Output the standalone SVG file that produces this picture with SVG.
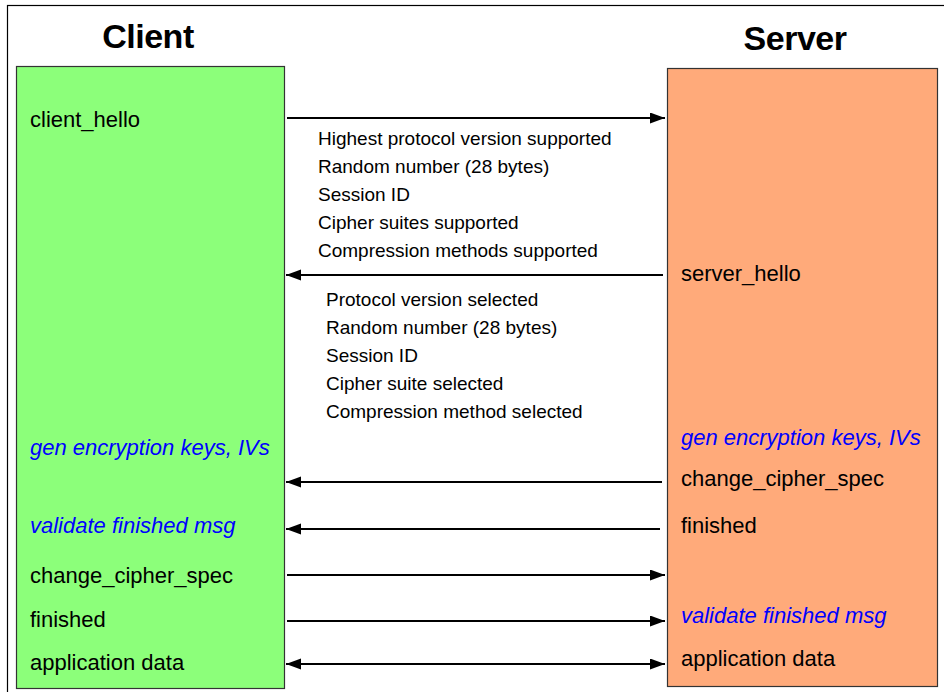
<svg xmlns="http://www.w3.org/2000/svg" width="944" height="692" viewBox="0 0 944 692">
<defs>
<style>
.t{font-family:"Liberation Sans",Arial,sans-serif;font-size:22px;fill:#000}
.s{font-family:"Liberation Sans",Arial,sans-serif;font-size:19px;fill:#000}
.b{fill:#0000FF;font-style:italic}
.h{font-family:"Liberation Sans",Arial,sans-serif;font-size:34px;font-weight:bold;fill:#000;text-anchor:middle;letter-spacing:-0.5px}
.c line{stroke:#000;stroke-width:2}
.box{stroke:#333;stroke-width:1.2}
</style>
<marker id="ah" markerUnits="userSpaceOnUse" markerWidth="16" markerHeight="12" refX="15" refY="5.5" orient="auto-start-reverse">
<path d="M0,0 L15,5.5 L0,11 z" fill="#000"/>
</marker>
</defs>
<rect x="0" y="0" width="944" height="692" fill="#fff"/>
<rect x="7.5" y="5.5" width="945" height="700" fill="none" stroke="#000" stroke-width="1.2"/>
<g id="client">
<text class="h" x="148" y="48">Client</text>
<rect class="box" x="16.5" y="66.5" width="268" height="622" fill="#8CFF7A"/>
<text class="t" x="30" y="127">client_hello</text>
<text class="t b" x="30" y="455">gen encryption keys, IVs</text>
<text class="t b" x="30" y="533">validate finished msg</text>
<text class="t" x="30" y="583">change_cipher_spec</text>
<text class="t" x="30" y="627">finished</text>
<text class="t" x="30" y="670">application data</text>
</g>
<g id="server">
<text class="h" x="795" y="50">Server</text>
<rect class="box" x="667.5" y="68.5" width="270" height="618" fill="#FFAA7A"/>
<text class="t" x="681" y="281">server_hello</text>
<text class="t b" x="681" y="445">gen encryption keys, IVs</text>
<text class="t" x="681" y="486">change_cipher_spec</text>
<text class="t" x="681" y="533">finished</text>
<text class="t b" x="681" y="623">validate finished msg</text>
<text class="t" x="681" y="666">application data</text>
</g>
<g id="client_hello_params">
<text class="s" x="318" y="145">Highest protocol version supported</text>
<text class="s" x="318" y="173">Random number (28 bytes)</text>
<text class="s" x="318" y="201">Session ID</text>
<text class="s" x="318" y="229">Cipher suites supported</text>
<text class="s" x="318" y="257">Compression methods supported</text>
</g>
<g id="server_hello_params">
<text class="s" x="326" y="306">Protocol version selected</text>
<text class="s" x="326" y="334">Random number (28 bytes)</text>
<text class="s" x="326" y="362">Session ID</text>
<text class="s" x="326" y="390">Cipher suite selected</text>
<text class="s" x="326" y="418">Compression method selected</text>
</g>
<g id="connectors" class="c">
<line x1="287" y1="118" x2="665" y2="118" marker-end="url(#ah)"/>
<line x1="663" y1="275" x2="286" y2="275" marker-end="url(#ah)"/>
<line x1="662" y1="482" x2="286" y2="482" marker-end="url(#ah)"/>
<line x1="660" y1="529" x2="286" y2="529" marker-end="url(#ah)"/>
<line x1="287" y1="575" x2="665" y2="575" marker-end="url(#ah)"/>
<line x1="287" y1="621" x2="665" y2="621" marker-end="url(#ah)"/>
<line x1="286" y1="664" x2="665" y2="664" marker-start="url(#ah)" marker-end="url(#ah)"/>
</g>
</svg>
